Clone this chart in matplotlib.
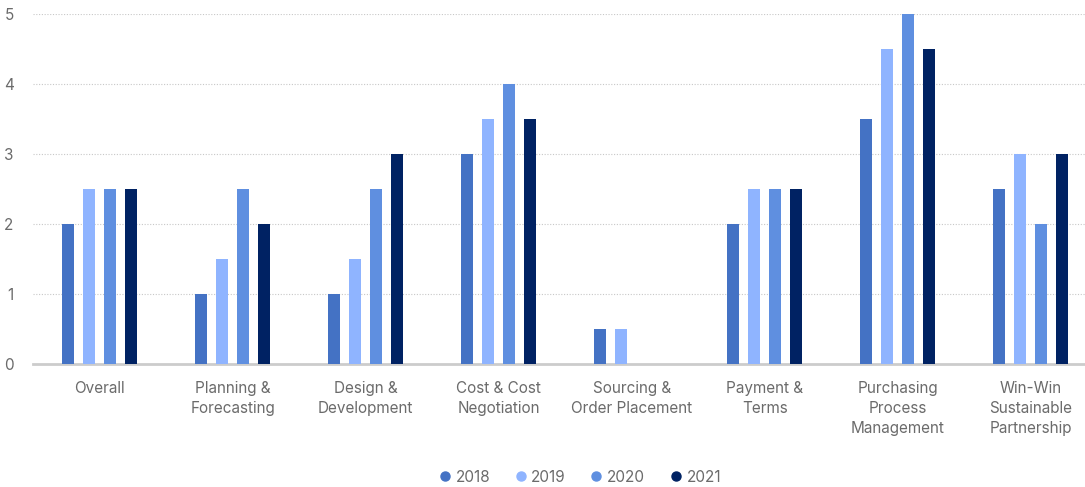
import matplotlib.pyplot as plt
import numpy as np

# scores per category, one list per year
categories = ["Overall", "Planning &\nForecasting", "Design &\nDevelopment",
              "Cost & Cost\nNegotiation", "Sourcing &\nOrder Placement",
              "Payment &\nTerms", "Purchasing\nProcess\nManagement",
              "Win-Win\nSustainable\nPartnership"]
years = ["2018", "2019", "2020", "2021"]
v2018 = [2, 1, 1, 3, 0.5, 2, 3.5, 2.5]
v2019 = [2.5, 1.5, 1.5, 3.5, 0.5, 2.5, 4.5, 3]
v2020 = [2.5, 2.5, 2.5, 4, 0, 2.5, 5, 2]
v2021 = [2.5, 2, 3, 3.5, 0, 2.5, 4.5, 3]
colors = ["#4472C4", "#8FB4FF", "#5F8FE0", "#002263"]

plt.rcParams['font.family'] = ['Inter', 'DejaVu Sans']
fig = plt.figure(figsize=(10.85, 4.87), dpi=100)
ax = fig.add_axes([0.0304, 0.2526, 0.981, 0.7186])

x = np.arange(len(categories))
pitch = 0.158
width = 0.09
for i, (vals, lab) in enumerate(zip([v2018, v2019, v2020, v2021], years)):
    ax.bar(x + (i - 1.5) * pitch, vals, width, color=colors[i], label=lab, zorder=3)

ax.set_xlim(-0.5, 7.5)
ax.set_ylim(0, 5)
ax.set_yticks(range(6))
ax.set_xticks(x)
ax.set_xticklabels(categories, linespacing=1.45)
ax.tick_params(axis='both', length=0, colors="#6b6b6b", labelsize=11)
ax.tick_params(axis='y', pad=14)
ax.tick_params(axis='x', pad=12)
for s in ["top", "right", "left"]:
    ax.spines[s].set_visible(False)
ax.spines["bottom"].set_color("#cccccc")
ax.spines["bottom"].set_linewidth(2)
ax.yaxis.grid(True, linestyle=(0, (1, 1.5)), color="#c8c8c8", linewidth=0.8, zorder=0)

handles = [plt.Line2D([], [], marker='o', linestyle='none', color=c, markersize=6.5) for c in colors]
fig.legend(handles, years, loc='center', bbox_to_anchor=(0.533, 0.02), ncol=4,
           frameon=False, fontsize=11, labelcolor="#6b6b6b", handletextpad=0.1,
           handlelength=1.2, columnspacing=1.4)

plt.savefig("out.png", dpi=100)
